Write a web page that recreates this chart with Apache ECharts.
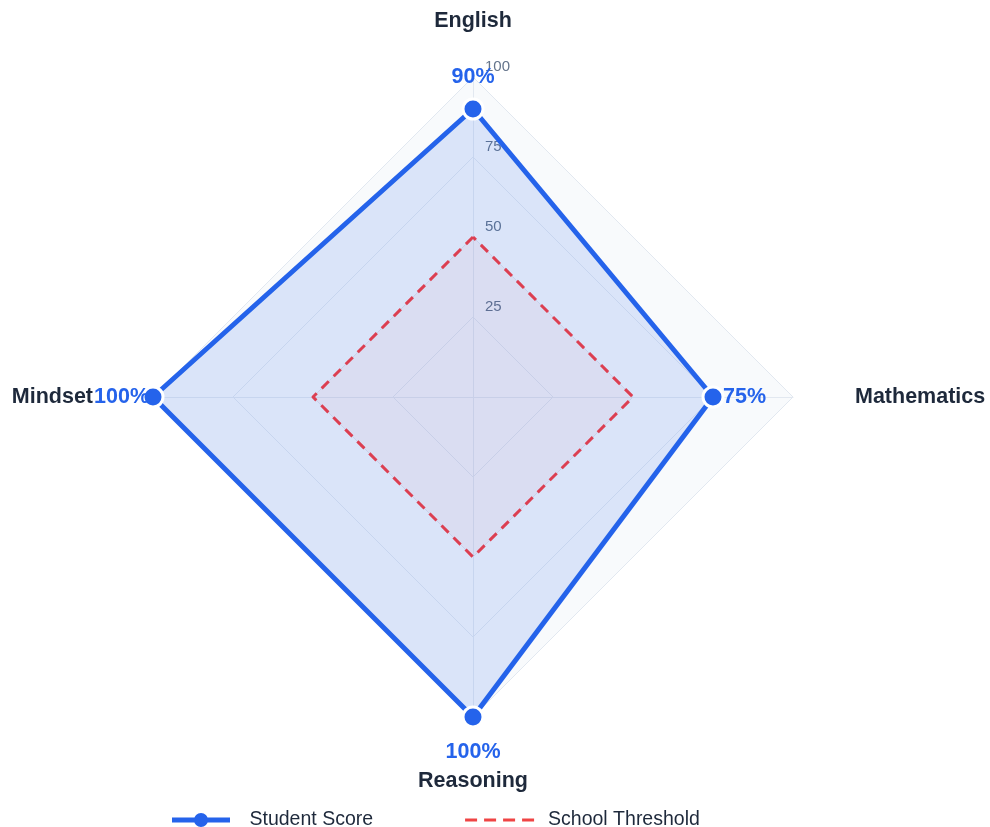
<!DOCTYPE html>
<html>
<head>
<meta charset="utf-8">
<script src="https://cdn.jsdelivr.net/npm/echarts@6/dist/echarts.min.js"></script>
<style>
  html, body { margin: 0; padding: 0; background: #fff; }
  #chart { width: 990px; height: 827px; }
</style>
</head>
<body>
<div id="chart"></div>
<script>
// indicators in echarts order (counter-clockwise from top)
const categories = ['English', 'Mindset', 'Reasoning', 'Mathematics'];
const studentScores = [90, 100, 100, 75];
const thresholdScores = [50, 50, 50, 50];
const tickLabels = [25, 50, 75, 100];
// where each data label sits relative to its point
const labelPos = ['top', 'left', 'bottom', 'right'];
const labelDist = [21, 4, 24, 10];

const blue = '#2563eb';
const red = '#ef4444';
const font = 'Liberation Sans';

let chart = echarts.init(document.getElementById('chart'));

// one invisible item per point, just to carry its label
let labelItems = categories.map((c, i) => ({
  value: studentScores.map((v, j) => (j === i ? v : '-')),
  label: {
    show: true,
    position: labelPos[i],
    distance: labelDist[i],
    formatter: p => (typeof p.value === 'number' && !isNaN(p.value)) ? p.value + '%' : ''
  }
}));

// extra room around each axis name
let namePad = {
  English: [0, 0, 0, 0],
  Mindset: [0, 15, 0, 0],
  Reasoning: [8, 0, 0, 0],
  Mathematics: [0, 0, 0, 17]
};
let nameRich = {};
categories.forEach((c, i) => {
  nameRich['n' + i] = {
    color: '#1e293b', fontSize: 21.5, fontWeight: 'bold', fontFamily: font,
    padding: namePad[c]
  };
});

chart.setOption({
  animation: false,
  legend: {
    data: [
      {
        name: 'Student Score',
        icon: 'path://M0,4.5 L23,4.5 L23,9.5 L0,9.5 Z M35,4.5 L58,4.5 L58,9.5 L35,9.5 Z M36,7 A7,7 0 1 1 22,7 A7,7 0 1 1 36,7 Z',
        itemStyle: { color: blue, borderWidth: 0 }
      },
      {
        name: 'School Threshold',
        icon: 'path://M0,0 h12 v3 h-12 Z M19,0 h12 v3 h-12 Z M38,0 h12 v3 h-12 Z M57,0 h12 v3 h-12 Z',
        itemStyle: { color: red, borderWidth: 0 }
      }
    ],
    left: 167,
    top: 805,
    itemWidth: 69,
    itemHeight: 14,
    itemGap: 92,
    textStyle: { fontSize: 19.5, color: '#1e293b', fontFamily: font, padding: [0, 0, 0, 9] }
  },
  radar: {
    center: [473, 397],
    radius: 320,
    shape: 'polygon',
    splitNumber: 4,
    nameGap: 45,
    axisName: {
      formatter: (name) => '{n' + categories.indexOf(name) + '|' + name + '}',
      rich: nameRich
    },
    indicator: categories.map((c, i) => ({
      name: c,
      min: 0,
      max: 100,
      axisLabel: {
        show: i === 0,
        showMinLabel: false,
        color: '#64748b',
        fontSize: 15,
        fontFamily: font,
        margin: -12,
        align: 'left',
        verticalAlign: 'bottom',
        padding: [0, 0, 3, 0],
        formatter: v => tickLabels.indexOf(v) >= 0 ? String(v) : ''
      }
    })),
    axisLine: { lineStyle: { color: '#e2e8f0', width: 1 } },
    splitLine: { lineStyle: { color: '#e2e8f0', width: 1 } },
    splitArea: { areaStyle: { color: ['#f8fafc'] } }
  },
  series: [
    {
      type: 'radar',
      z: 2,
      data: [{
        name: 'Student Score',
        value: studentScores,
        symbol: 'circle',
        symbolSize: 20,
        lineStyle: { color: blue, width: 5 },
        itemStyle: { color: blue, borderColor: '#fff', borderWidth: 3 },
        areaStyle: { color: 'rgba(37,99,235,0.2)' }
      }]
    },
    {
      type: 'radar',
      z: 3,
      data: [{
        name: 'School Threshold',
        value: thresholdScores,
        symbol: 'none',
        lineStyle: { color: '#dc3f52', width: 3, type: [10, 7] },
        itemStyle: { color: red },
        areaStyle: { color: 'rgba(239,68,68,0.05)' }
      }]
    },
    {
      type: 'radar',
      z: 4,
      silent: true,
      symbol: 'circle',
      symbolSize: 0,
      lineStyle: { width: 0, opacity: 0 },
      itemStyle: { color: 'rgba(0,0,0,0)' },
      label: {
        color: blue,
        fontSize: 21.5,
        fontWeight: 'bold',
        fontFamily: font
      },
      data: labelItems
    }
  ]
});
</script>
</body>
</html>
